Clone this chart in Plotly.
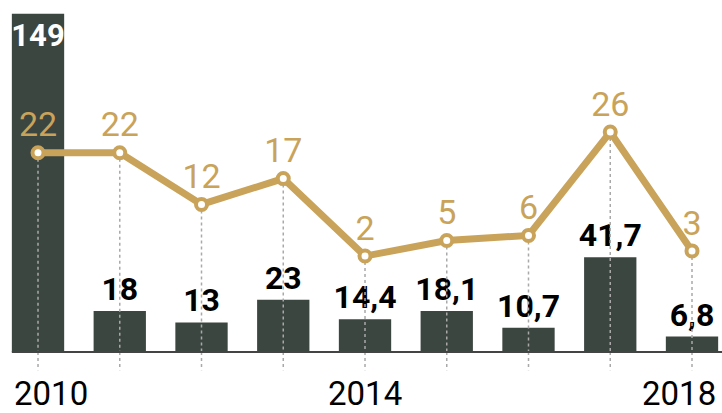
import plotly.graph_objects as go

years = [2010, 2011, 2012, 2013, 2014, 2015, 2016, 2017, 2018]
bar_values = [149, 18, 13, 23, 14.4, 18.1, 10.7, 41.7, 6.8]
line_values = [22, 22, 12, 17, 2, 5, 6, 26, 3]
tick_years = [2010, 2014, 2018]

BAR_COLOR = "#3c4641"
TAN = "#c9a35a"
DOT = "#a9a9a9"
FONT = "Roboto, Liberation Sans, sans-serif"

bar_w = 0.64
x_range = [2009.535, 2018.367]
y_range = [0, 155]
y2_range = [-16.57, 51.57]


def fmt(v):
    s = f"{v:g}"
    return s.replace(".", ",")


fig = go.Figure()

bar_text_pos = ["inside" if v > y_range[1] * 0.8 else "outside" for v in bar_values]
fig.add_trace(go.Bar(
    x=years, y=bar_values, width=bar_w,
    marker=dict(color=BAR_COLOR, line=dict(width=0)),
    text=[fmt(v) for v in bar_values],
    textposition=bar_text_pos,
    insidetextanchor="end",
    constraintext="none",
    textangle=0,
    insidetextfont=dict(family=FONT, size=31, color="white", weight="bold"),
    outsidetextfont=dict(family=FONT, size=32, color="black", weight="bold"),
    cliponaxis=False,
    yaxis="y", hoverinfo="skip", showlegend=False,
))

# dotted drop lines from line markers to the bottom of the plot
dx, dy = [], []
for yr, v in zip(years, line_values):
    dx += [yr, yr, None]
    dy += [v, y2_range[0], None]
fig.add_trace(go.Scatter(
    x=dx, y=dy, mode="lines", yaxis="y2",
    line=dict(color=DOT, width=1.5, dash="dot"),
    hoverinfo="skip", showlegend=False,
))

fig.add_trace(go.Scatter(
    x=years, y=line_values, mode="lines+markers+text", yaxis="y2",
    line=dict(color=TAN, width=7),
    marker=dict(size=11, color="white", line=dict(color=TAN, width=4)),
    text=[fmt(v) for v in line_values],
    textposition="top center",
    textfont=dict(family=FONT, size=34, color=TAN),
    cliponaxis=False,
    hoverinfo="skip", showlegend=False,
))

shapes = []
# stubs of the dotted lines below the baseline
for yr in years:
    shapes.append(dict(type="line", xref="x", yref="paper", x0=yr, x1=yr, y0=0, y1=-0.052,
                       line=dict(color=DOT, width=1.5, dash="dot"), layer="above"))
# baseline
shapes.append(dict(type="line", xref="x", yref="paper", x0=years[0] - bar_w / 2, x1=x_range[1],
                   y0=0, y1=0, line=dict(color="#444444", width=2), layer="above"))

# year labels (first left-aligned to its bar, last right-aligned, others centred)
annotations = []
for i, t in enumerate(tick_years):
    if i == 0:
        xa, xv = "left", t - bar_w / 2
    elif i == len(tick_years) - 1:
        xa, xv = "right", t + bar_w / 2
    else:
        xa, xv = "center", t
    annotations.append(dict(x=xv, y=-0.119, xref="x", yref="paper", xanchor=xa, yanchor="middle",
                            text=str(t), showarrow=False,
                            font=dict(family=FONT, size=33, color="black")))

fig.update_layout(
    width=722, height=413,
    margin=dict(l=0, r=0, t=0, b=61),
    paper_bgcolor="white", plot_bgcolor="white",
    showlegend=False,
    shapes=shapes,
    annotations=annotations,
    xaxis=dict(range=x_range, showticklabels=False,
               showgrid=False, zeroline=False, showline=False, ticks=""),
    yaxis=dict(range=y_range, visible=False, showgrid=False, zeroline=False),
    yaxis2=dict(range=y2_range, overlaying="y", visible=False, showgrid=False, zeroline=False),
)

fig.write_html("out.html")
